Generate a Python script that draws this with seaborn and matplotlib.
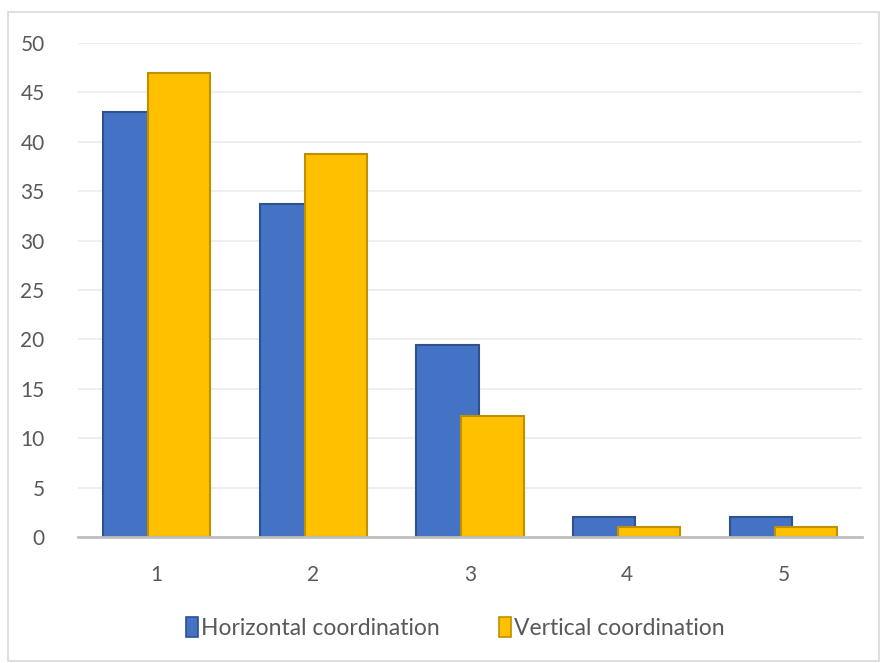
import matplotlib
matplotlib.use("Agg")
import matplotlib.pyplot as plt
import seaborn as sns
import pandas as pd
from matplotlib.patches import Rectangle, Patch

categories = ["1", "2", "3", "4", "5"]
horizontal = [43, 33.7, 19.4, 2, 2]
vertical = [47, 38.8, 12.2, 1, 1]
series_names = ["Horizontal coordination", "Vertical coordination"]
y_ticks = [0, 5, 10, 15, 20, 25, 30, 35, 40, 45, 50]

df = pd.DataFrame({
    "cat": categories * 2,
    "val": horizontal + vertical,
    "series": [series_names[0]] * len(categories) + [series_names[1]] * len(categories),
})

sns.set_theme(style="white")
plt.rcParams["font.family"] = ["Lato", "DejaVu Sans"]

fig = plt.figure(figsize=(8.81, 6.63), dpi=100)
ax = fig.add_axes([78 / 881, 1 - 537 / 663, (862 - 78) / 881, (537 - 43) / 663])

face = {series_names[0]: "#4472C4", series_names[1]: "#FFC000"}
edge = {series_names[0]: "#2F528F", series_names[1]: "#BF9000"}

sns.barplot(data=df, x="cat", y="val", hue="series", order=categories,
            hue_order=series_names, palette=face, width=0.575, gap=-0.378,
            ax=ax, legend=False, saturation=1)
for i, p in enumerate(ax.patches):
    s = series_names[0] if i < len(categories) else series_names[1]
    p.set_edgecolor(edge[s])
    p.set_linewidth(1.5)

ax.set_ylim(0, 50)
ax.set_xlim(-0.5, 4.5)
ax.set_yticks(y_ticks)
ax.set_yticklabels([str(t) for t in y_ticks])
ax.yaxis.grid(True, color="#EBEBEB", linewidth=1.2)
ax.set_axisbelow(True)
for sp in ["top", "right", "left"]:
    ax.spines[sp].set_visible(False)
ax.spines["bottom"].set_color("#BFBFBF")
ax.spines["bottom"].set_linewidth(2)
ax.spines["bottom"].set_zorder(5)
ax.tick_params(axis="both", length=0, labelsize=15, labelcolor="#595959")
ax.tick_params(axis="x", pad=20)
ax.tick_params(axis="y", pad=24)
ax.set_xlabel("")
ax.set_ylabel("")

handles = [Patch(facecolor=face[s], edgecolor=edge[s], linewidth=1.2, label=s) for s in series_names]
fig.legend(handles=handles, loc="center", bbox_to_anchor=(0.517, 1 - 628 / 663),
           ncol=2, frameon=False, fontsize=16.5, handlelength=0.5, handleheight=1.0,
           handletextpad=0.15, columnspacing=2.6, labelcolor="#595959")

fig.patches.append(Rectangle((8 / 881, 2 / 663), (879 - 8) / 881, (651 - 2) / 663,
                             transform=fig.transFigure, fill=False,
                             edgecolor="#D9D9D9", linewidth=1.2))

fig.savefig("out.png", dpi=100)
